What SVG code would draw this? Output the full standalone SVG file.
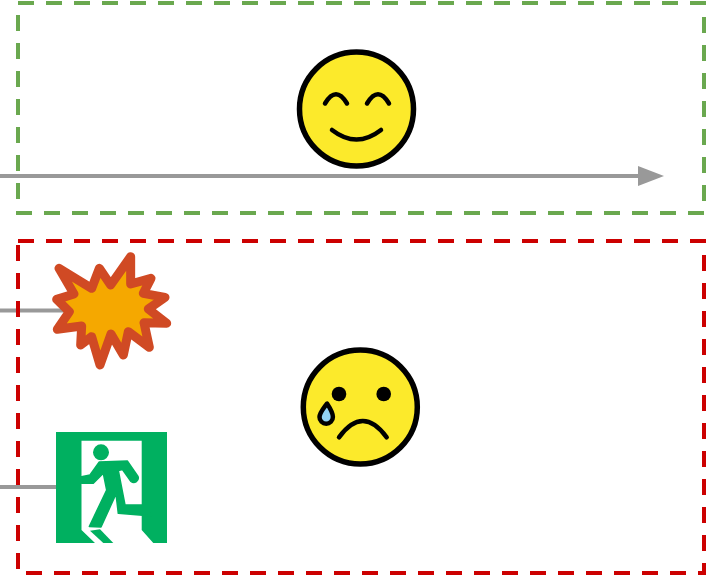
<svg xmlns="http://www.w3.org/2000/svg" width="708" height="577" viewBox="0 0 708 577">
<style>
.zone{fill:none;stroke-width:4;stroke-dasharray:16 12}
.conn{fill:none;stroke:#999999;stroke-width:4}
.face{fill:#fcea2b;stroke:#000;stroke-width:5.500}
.feat{fill:none;stroke:#000;stroke-width:4.500;stroke-linecap:round;stroke-linejoin:round}
</style>
<defs>
<marker id="arrow" markerUnits="userSpaceOnUse" markerWidth="26" markerHeight="20" refX="0" refY="10" orient="auto">
<path d="M0 0L26 10L0 20Z" fill="#999999"/>
</marker>
</defs>
<rect width="708" height="577" fill="#fff"/>
<g id="connectors">
<path class="conn" d="M0 176H638" marker-end="url(#arrow)"/>
<path class="conn" d="M0 310.500H70"/>
<path class="conn" d="M0 487H58"/>
</g>
<g id="safe-zone"><rect class="zone" x="18" y="3" width="686" height="210" stroke="#6aa84f"/></g>
<g id="danger-zone"><rect class="zone" x="18" y="241" width="686" height="332" stroke="#cc0000"/></g>
<g id="happy-face">
<circle class="face" cx="356.500" cy="109" r="57"/>
<path class="feat" d="M325 103.500Q336 85 347 103.500M367 103.500Q378 85 389 103.500"/>
<path class="feat" d="M332 130Q356.500 149 381 130"/>
</g>
<g id="explosion">
<path transform="translate(40 240) scale(0.3333)" fill="#f5a800" stroke="#d04a24" stroke-width="27" stroke-linejoin="round" d="M57 85L155 145L178 85L212 135L272 50L272 132L333 115L310 160L375 172L325 207L380 250L312 248L328 322L265 275L250 345L213 282L180 375L155 290L122 315L125 258L52 268L88 215L50 178L102 162Z"/>
</g>
<g id="exit-sign">
<rect x="56" y="432" width="111" height="111" fill="#00b060"/>
<path fill="#fff" d="M81.500 440.700H141.700V530L153.300 543H95L81.500 530Z"/>
<path fill="#00b060" d="M90 530.700L100 529.300L113.300 543H103.300Z"/>
<circle cx="101" cy="452.300" r="8" fill="#00b060"/>
<path fill="#00b060" stroke="#00b060" stroke-width="1.500" stroke-linejoin="round" d="M81.500 476.700L90 475L99.300 462L127.300 461L138 476.500A4.500 4.500 0 0 1 131 481.500L122.500 469.500L118.300 470.500L125 505L145 505L151.700 516L118.300 513.300L116 494L101 527L89.300 526.500L106.700 490L103.300 473.300L93.300 483.300L81.500 483.300Z"/>
</g>
<g id="sad-face">
<circle class="face" cx="360.300" cy="407" r="57"/>
<circle cx="339" cy="394" r="7.300"/>
<circle cx="383.700" cy="394" r="7.300"/>
<path class="feat" d="M339 437.300Q362.800 404.700 386.700 437.300"/>
<path fill="#92d3f5" stroke="#000" stroke-width="4.500" stroke-linejoin="round" d="M327 403.500C323 409 319.500 413 319.500 417A6.700 6.700 0 0 0 332.900 417C332.900 413 330 408 327 403.500Z"/>
</g>
</svg>
